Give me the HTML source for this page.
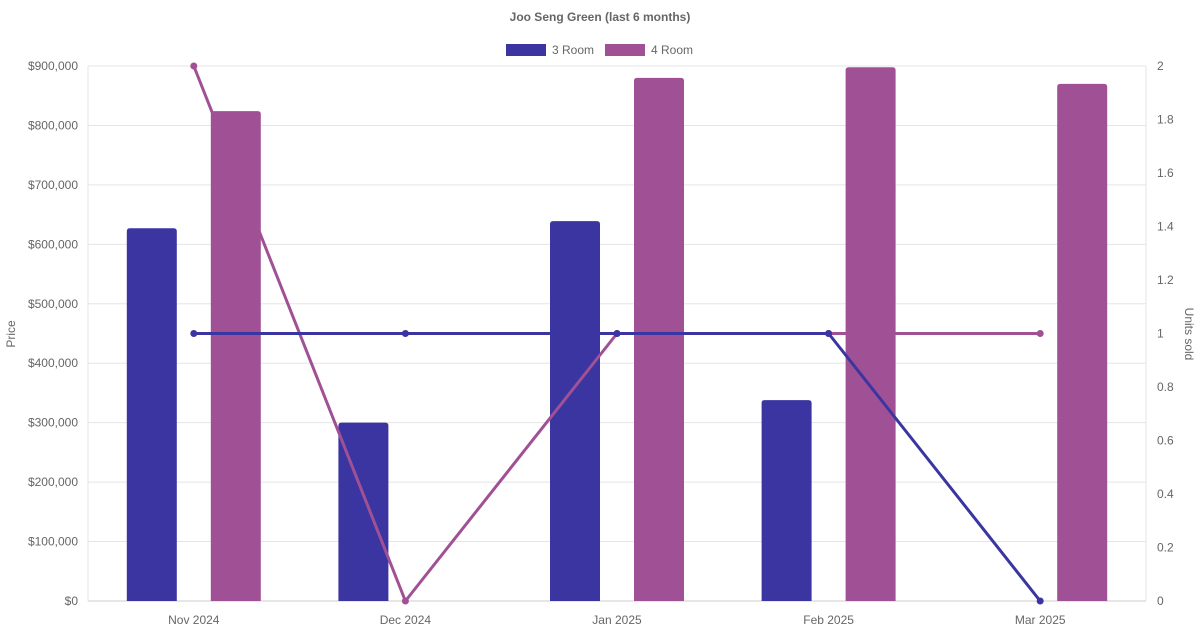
<!DOCTYPE html>
<html><head><meta charset="utf-8"><style>
body{margin:0;background:#fff;font-family:"Liberation Sans",Arial,sans-serif;}
svg text{font-family:"Liberation Sans",Arial,sans-serif;fill:#666;}
</style></head><body>
<svg id="chart" width="1200" height="630">
<text x="600" y="21" text-anchor="middle" font-size="12" font-weight="bold">Joo Seng Green (last 6 months)</text>
<g>
<g><rect x="506" y="44" width="40" height="12" fill="#3a35a0"/><text x="552" y="54" font-size="12">3 Room</text></g>
<g><rect x="605" y="44" width="40" height="12" fill="#a05195"/><text x="651" y="54" font-size="12">4 Room</text></g>
</g>
<text transform="translate(15,334) rotate(-90)" text-anchor="middle" font-size="12">Price</text>
<text transform="translate(1185,334) rotate(90)" text-anchor="middle" font-size="12">Units sold</text>
<g id="grid"></g><g id="bars"></g><g id="lines"></g>
</svg>
<script>
const categories=["Nov 2024","Dec 2024","Jan 2025","Feb 2025","Mar 2025"];
const price3=[627000,300000,639000,338000,null];
const price4=[824000,null,880000,898000,870000];
const units3=[1,1,1,1,0];
const units4=[2,0,1,1,1];
const priceTicks=[0,100000,200000,300000,400000,500000,600000,700000,800000,900000];
const unitTicks=[0,0.2,0.4,0.6,0.8,1,1.2,1.4,1.6,1.8,2];
const L=88,R=1146,T=66,B=601,NS="http://www.w3.org/2000/svg";
const yP=v=>B-(v/900000)*(B-T);
const yU=v=>B-(v/2)*(B-T);
const band=(R-L)/categories.length;
const xC=i=>L+band*(i+0.5);
function mk(tag,attrs,parent){const e=document.createElementNS(NS,tag);for(const k in attrs)e.setAttribute(k,attrs[k]);parent.appendChild(e);return e;}
const grid=document.getElementById('grid'),bars=document.getElementById('bars'),lines=document.getElementById('lines');
priceTicks.forEach(v=>{const y=yP(v);
 const g=mk('line',{x1:L,x2:R,y1:y,y2:y,stroke:v===0?'#ccc':'#e5e5e5','stroke-width':1},grid);
 
 
 const t=mk('text',{x:L-10,y:y+4,'text-anchor':'end','font-size':12},grid);t.textContent='$'+v.toLocaleString('en-US');
 
 });
unitTicks.forEach(v=>{const t=mk('text',{x:R+11,y:yU(v)+4,'font-size':12},grid);t.textContent=String(v);
 
 });
mk('line',{x1:L,x2:L,y1:T,y2:B,stroke:'#e5e5e5'},grid);
mk('line',{x1:R,x2:R,y1:T,y2:B,stroke:'#e5e5e5'},grid);
categories.forEach((c,i)=>{const t=mk('text',{x:xC(i),y:624,'text-anchor':'middle','font-size':12},grid);t.textContent=c;
 
 });
function bar(v,x,color,name){if(v==null)return;const y=yP(v),w=50,r=3;
 const p=mk('path',{d:`M${x} ${B}V${y+r}Q${x} ${y} ${x+r} ${y}H${x+w-r}Q${x+w} ${y} ${x+w} ${y+r}V${B}Z`,fill:color},bars);
 
 }
categories.forEach((c,i)=>{bar(price3[i],xC(i)-67,'#3a35a0','bar-3-room');bar(price4[i],xC(i)+17,'#a05195','bar-4-room');});
function line(vals,color,name){const pts=vals.map((v,i)=>xC(i)+','+yU(v)).join(' ');
 const pl=mk('polyline',{points:pts,fill:'none',stroke:color,'stroke-width':3,'stroke-linejoin':'round'},lines);
 
 
 vals.forEach((v,i)=>{const c=mk('circle',{cx:xC(i),cy:yU(v),r:3.5,fill:color},lines);
  
  });}
line(units4,'#a05195','line-4-room-units');
line(units3,'#3a35a0','line-3-room-units');
</script>
</body></html>
